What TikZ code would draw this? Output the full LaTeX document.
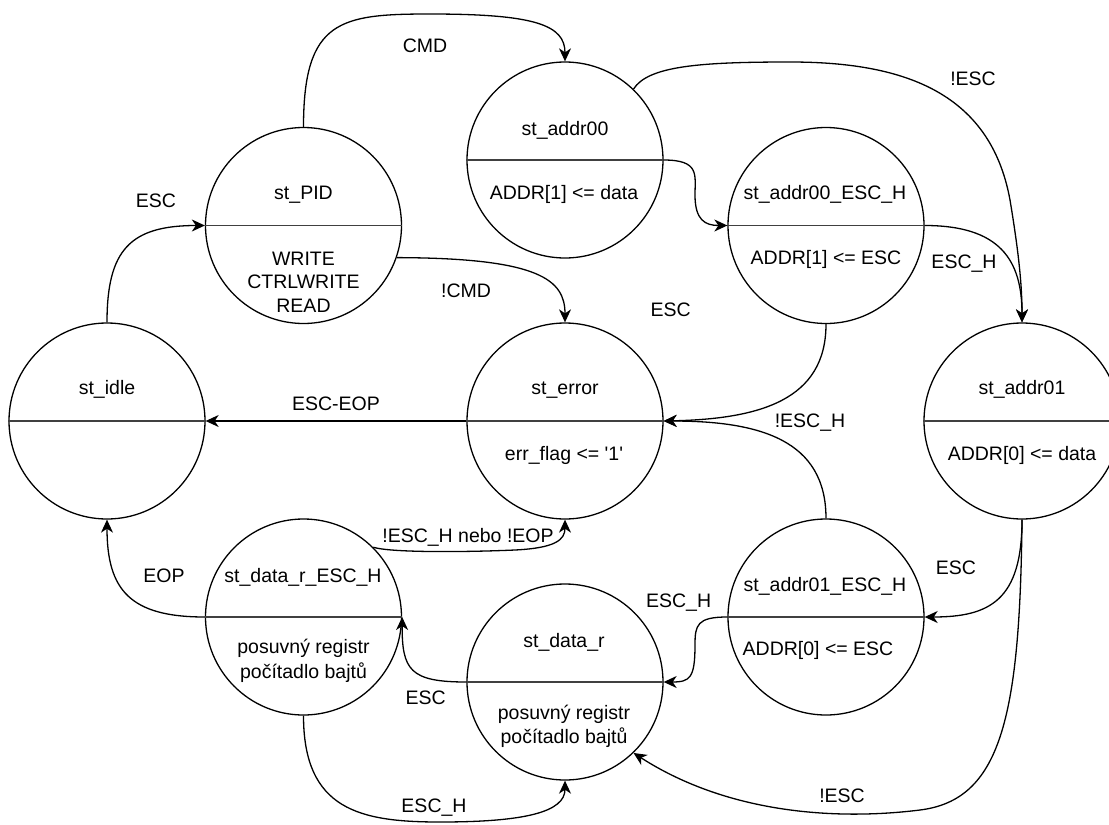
\documentclass[tikz,border=0pt]{standalone}
\usepackage{fontspec}
\setmainfont{Liberation Sans}[Ligatures=TeXOff]
\usetikzlibrary{arrows.meta}
\begin{document}
\begin{tikzpicture}[x=1pt,y=-1pt,
  state/.style={circle,draw=black,line width=1.3pt,minimum size=196pt,inner sep=0pt},
  divider/.style={line width=1.3pt,draw=black!75},
  txt/.style={font=\fontsize{19.5}{23.5}\selectfont,anchor=base,inner sep=0pt},
  edge/.style={line width=1.3pt,-{Stealth[length=13pt,width=12pt,inset=4pt]}}]
\useasboundingbox (0,0) rectangle (1109,825);
\clip (0,0) rectangle (1109,825);

% states
\node[state] (idle) at (107,421) {};
\node[state] (pid) at (303.5,225.5) {};
\node[state] (a00) at (565,160) {};
\node[state] (a00h) at (826,225.5) {};
\node[state] (err) at (565,421) {};
\node[state] (a01) at (1022,421) {};
\node[state] (a01h) at (826,617) {};
\node[state] (drh) at (303.5,617) {};
\node[state] (dr) at (565,682) {};

% dividers
\foreach \n in {idle,pid,a00,a00h,err,a01,a01h,drh,dr}
  \draw[divider] (\n.west) -- (\n.east);

% state texts
\node[txt] (idleT) at (107,394) {st\_idle};
\node[txt] (pidT) at (303.5,199.5) {st\_PID};
\node[txt] (pidB1) at (303.5,265) {WRITE};
\node[txt] (pidB2) at (303.5,288.5) {CTRLWRITE};
\node[txt] (pidB3) at (303.5,312) {READ};
\node[txt] (a00T) at (565,135) {st\_addr00};
\node[txt] (a00B) at (564,199) {ADDR[1] <= data};
\node[txt] (a00hT) at (825,199) {st\_addr00\_ESC\_H};
\node[txt] (a00hB) at (826,264.5) {ADDR[1] <= ESC};
\node[txt] (errT) at (565,394.5) {st\_error};
\node[txt] (errB) at (564,460) {err\_flag <= '1'};
\node[txt] (a01T) at (1022,394.5) {st\_addr01};
\node[txt] (a01B) at (1022,460) {ADDR[0] <= data};
\node[txt] (a01hT) at (825,591) {st\_addr01\_ESC\_H};
\node[txt] (a01hB) at (818,655) {ADDR[0] <= ESC};
\node[txt] (drhT) at (303,582) {st\_data\_r\_ESC\_H};
\node[txt] (drhB1) at (303.5,653) {posuvný registr};
\node[txt] (drhB2) at (303.5,678) {počítadlo bajtů};
\node[txt] (drT) at (564,647) {st\_data\_r};
\node[txt] (drB1) at (564,719) {posuvný registr};
\node[txt] (drB2) at (564,743) {počítadlo bajtů};

% connectors
\draw[edge] (idle.north) .. controls (107,250) and (130,225.5) .. (pid.west);
\draw[edge] (pid.north) .. controls (303.5,20) and (340,14) .. (430,14)
  .. controls (535,14) and (565,25) .. (a00.north);
\draw[edge] (pid.-19.4) .. controls (540,258) and (565,280) .. (err.north);
\draw[edge] (a00.46) .. controls (648,66) and (700,62) .. (790,62)
  .. controls (900,62) and (990,90) .. (1010,200)
  .. controls (1020,260) and (1022,290) .. (a01.north);
\draw[edge] (a00.east) .. controls (700,160) and (695,175) .. (695,195)
  .. controls (695,220) and (705,225.5) .. (a00h.west);
\draw[edge] (a00h.east) .. controls (1000,225.5) and (1022,260) .. (a01.north);
\draw[edge] (a00h.south) .. controls (826,400) and (760,419) .. (err.east);
\draw[edge] (a01h.north) .. controls (826,440) and (760,421) .. (err.east);
\draw[edge] (err.west) -- (idle.east);
\draw[edge] (a01.south) .. controls (1022,600) and (990,617) .. (a01h.east);
\draw[edge] (a01.south) .. controls (1020,720) and (1000,800) .. (920,810)
  .. controls (840,820) and (730,815) .. (dr.-46);
\draw[edge] (a01h.west) .. controls (697,617) and (695,625) .. (695,645)
  .. controls (695,678) and (690,682) .. (dr.east);
\draw[edge] (dr.west) .. controls (410,682) and (402,670) .. (drh.east);
\draw[edge] (drh.south) .. controls (303.5,810) and (360,822) .. (440,822)
  .. controls (525,822) and (565,812) .. (dr.south);
\draw[edge] (drh.west) .. controls (130,617) and (107,590) .. (idle.south);
\draw[edge] (drh.45) .. controls (392,553) and (470,552) .. (515,550)
  .. controls (555,548) and (565,540) .. (err.south);

% edge labels
\node[txt] (lEsc1) at (156,207) {ESC};
\node[txt] (lCmd) at (425,52.7) {CMD};
\node[txt] (lNCmd) at (466,297) {!CMD};
\node[txt] (lEscEop) at (336,410) {ESC-EOP};
\node[txt] (lNEsc1) at (973,85) {!ESC};
\node[txt] (lEscH1) at (964,268) {ESC\_H};
\node[txt] (lEsc2) at (670.7,316.3) {ESC};
\node[txt] (lNEscH) at (810,427.7) {!ESC\_H};
\node[txt] (lNebo) at (468,542) {!ESC\_H nebo !EOP};
\node[txt] (lEop) at (164,582) {EOP};
\node[txt] (lEsc3) at (425.7,704) {ESC};
\node[txt] (lEscH2) at (434,812.7) {ESC\_H};
\node[txt] (lEscH3) at (678.6,607.7) {ESC\_H};
\node[txt] (lEsc4) at (956,574) {ESC};
\node[txt] (lNEsc2) at (842,802.7) {!ESC};
\end{tikzpicture}
\end{document}
